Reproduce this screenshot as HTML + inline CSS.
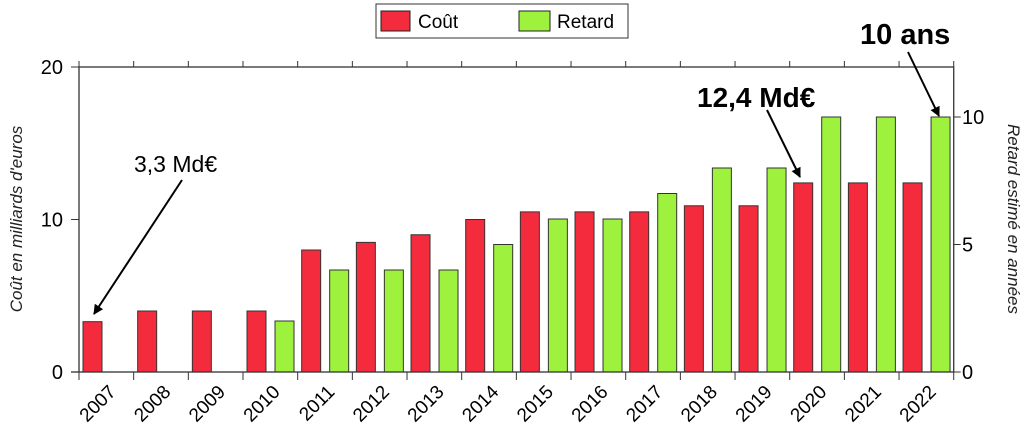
<!DOCTYPE html>
<html><head><meta charset="utf-8"><style>
body{margin:0;background:#fff;}
svg{display:block;font-family:"Liberation Sans",Arial,sans-serif;}
</style></head><body>
<svg id="chart" width="1028" height="438" viewBox="0 0 1028 438">
<defs><marker id="ah" viewBox="0 0 10 10" refX="9" refY="5" markerWidth="5" markerHeight="5" orient="auto"><path d="M0,0L10,5L0,10z" fill="#000"/></marker></defs>
<g id="bars"></g>
<g id="axes"></g>
<g>
<rect x="376" y="4" width="252" height="34" fill="#fff" stroke="#333" stroke-width="1"/>
<rect x="381" y="11" width="29" height="20" fill="#f42b3c" stroke="#222"/>
<text x="418" y="28" font-size="19">Coût</text>
<rect x="519" y="11" width="31" height="20" fill="#9ef23e" stroke="#222"/>
<text x="557" y="28" font-size="19">Retard</text>
</g>
<text transform="translate(22,219) rotate(-90)" text-anchor="middle" font-size="17" font-style="italic" fill="#222">Coût en milliards d'euros</text>
<text transform="translate(1008,219) rotate(90)" text-anchor="middle" font-size="17" font-style="italic" fill="#222">Retard estimé en années</text>
<g>
<text x="134" y="172" font-size="23">3,3 Md€</text>
<line x1="182" y1="180" x2="94" y2="314" stroke="#000" stroke-width="2" marker-end="url(#ah)"/>
<text x="697" y="107" font-size="28" font-weight="bold">12,4 Md€</text>
<line x1="767" y1="110" x2="800" y2="177" stroke="#000" stroke-width="2" marker-end="url(#ah)"/>
<text x="860" y="44" font-size="29" font-weight="bold">10 ans</text>
<line x1="908" y1="52" x2="939" y2="116" stroke="#000" stroke-width="2" marker-end="url(#ah)"/>
</g>
</svg>
<script>
const years=["2007","2008","2009","2010","2011","2012","2013","2014","2015","2016","2017","2018","2019","2020","2021","2022"];
const cost=[3.3,4,4,4,8,8.5,9,10,10.5,10.5,10.5,10.9,10.9,12.4,12.4,12.4];
const delay=[0,0,0,2,4,4,4,5,6,6,7,8,8,10,10,10];
const leftTicks=[0,10,20];
const rightTicks=[0,5,10];
const NS="http://www.w3.org/2000/svg";
const X0=79,STEP=54.67,Y0=372,YT=67;
const yL=v=>Y0-v*(Y0-YT)/20;
const yR=v=>Y0-v*25.5;
const bx=i=>X0+i*STEP;
function mk(t,a,p){const e=document.createElementNS(NS,t);for(const k in a)e.setAttribute(k,a[k]);p.appendChild(e);return e;}
const bars=document.getElementById('bars'),axes=document.getElementById('axes');
years.forEach((y,i)=>{
 if(cost[i]>0){const r=mk('rect',{x:bx(i)+4,y:yL(cost[i]),width:19,height:Y0-yL(cost[i]),fill:'#f42b3c',stroke:'#333','stroke-width':1},bars);
 
 }
 if(delay[i]>0){const r=mk('rect',{x:bx(i)+32,y:yR(delay[i]),width:19,height:Y0-yR(delay[i]),fill:'#9ef23e',stroke:'#333','stroke-width':1},bars);
 
 }
 const t=mk('text',{transform:`translate(${bx(i)+38},393) rotate(-45)`,'text-anchor':'end','font-size':19},axes);t.textContent=y;
 
 
});
const XR=bx(16);
mk('rect',{x:X0,y:YT,width:XR-X0,height:Y0-YT,fill:'none',stroke:'#333','stroke-width':1.3},axes);
mk('line',{x1:71,y1:Y0,x2:X0,y2:Y0,stroke:'#333','stroke-width':1.3},axes);
for(let i=0;i<=16;i++){mk('line',{x1:bx(i),y1:Y0,x2:bx(i),y2:Y0+8,stroke:'#333'},axes);mk('line',{x1:bx(i),y1:YT,x2:bx(i),y2:YT-6,stroke:'#333'},axes);}
leftTicks.forEach(v=>{mk('line',{x1:71,y1:yL(v),x2:X0,y2:yL(v),stroke:'#333'},axes);
 const t=mk('text',{x:63,y:yL(v)+7,'text-anchor':'end','font-size':20},axes);t.textContent=v;
 
 });
rightTicks.forEach(v=>{mk('line',{x1:XR,y1:yR(v),x2:XR+7,y2:yR(v),stroke:'#333'},axes);
 const t=mk('text',{x:962,y:yR(v)+7,'font-size':20},axes);t.textContent=v;
 
 });
</script>
</body></html>
